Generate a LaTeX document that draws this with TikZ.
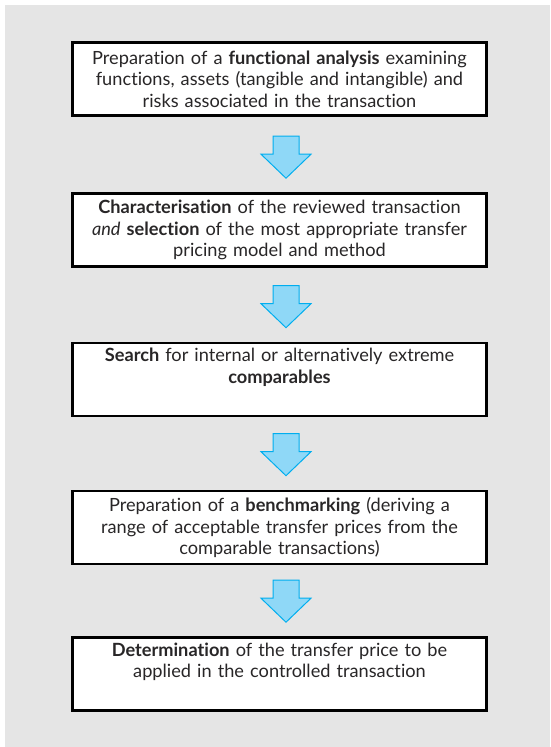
\documentclass[tikz,border=0pt]{standalone}
\usepackage{fontspec}
\setmainfont{Lato}[RawFeature=-liga]
\usetikzlibrary{calc}
\definecolor{panel}{RGB}{229,229,229}
\definecolor{ink}{RGB}{40,38,39}
\definecolor{arrowfill}{RGB}{143,216,247}
\definecolor{arrowline}{RGB}{0,174,239}
\begin{document}
\begin{tikzpicture}[x=1pt,y=1pt,
  stepbox/.style={draw=black, line width=2.6pt, fill=white,
    minimum width=414pt, minimum height=73pt, inner sep=0pt,
    text width=410pt, align=center, text=ink,
    font=\fontsize{18.2}{21.5}\selectfont},
  flowarrow/.pic={\draw[draw=arrowline, fill=arrowfill, line width=1pt, line join=miter]
    (0,0) -- (-25,24) -- (-13,24) -- (-13,42) -- (13,42) -- (13,24) -- (25,24) -- cycle;}]
\useasboundingbox (0,0) rectangle (550,-747);
% grey panel behind the flow
\fill[panel] (5,-5) rectangle (550,-747);

% process steps
\node[stepbox] (b1) at (279.5,-79)
  {Preparation of a \textbf{functional analysis} examining\\
   functions, assets (tangible and intangible) and\\
   risks associated in the transaction};
\node[stepbox] (b2) at (279.5,-230)
  {\textbf{Characterisation} of the reviewed transaction\\
   \textit{and} \textbf{selection} of the most appropriate transfer\\
   pricing model and method};
\node[stepbox] (b3) at (279.5,-379.5)
  {\textbf{Search} for internal or alternatively extreme\\
   \textbf{comparables}\\ \strut};
\node[stepbox] (b4) at (279.5,-527.5)
  {Preparation of a \textbf{benchmarking} (deriving a\\
   range of acceptable transfer prices from the\\
   comparable transactions)};
\node[stepbox] (b5) at (279.5,-674)
  {\textbf{Determination} of the transfer price to be\\
   applied in the controlled transaction\\ \strut};

% block arrows between the steps (origin at the tip)
\pic at ($(b2.north)+(6.5,14)$) {flowarrow};
\pic at ($(b3.north)+(6.5,14)$) {flowarrow};
\pic at ($(b4.north)+(6.5,14)$) {flowarrow};
\pic at ($(b5.north)+(6.5,14)$) {flowarrow};
\end{tikzpicture}
\end{document}
